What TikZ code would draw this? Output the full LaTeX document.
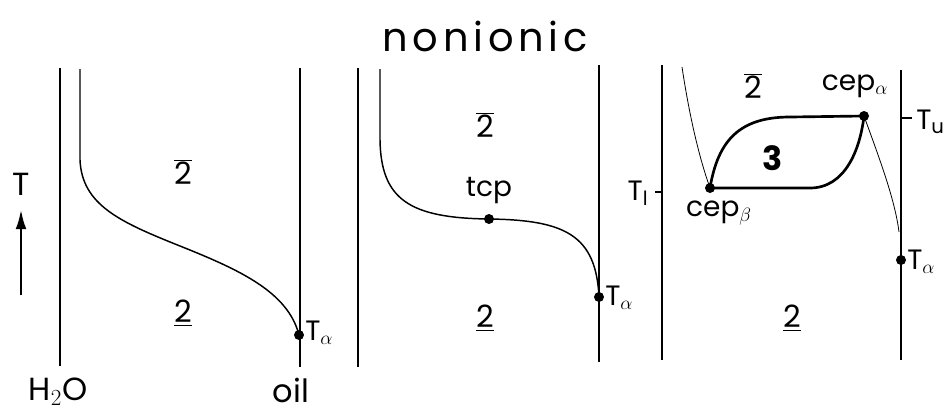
\documentclass[tikz,border=0pt]{standalone}
\usepackage{fontspec}
\usetikzlibrary{arrows.meta}
\setmainfont{Poppins}
\begin{document}
\begin{tikzpicture}[x=0.75pt,y=-0.75pt,
  axis/.style={line width=1.8pt},
  curve/.style={line width=1.1pt},
  thincurve/.style={line width=0.6pt},
  loopline/.style={line width=2pt},
  dot/.style={circle,fill=black,inner sep=0pt,minimum size=7.5pt},
  lbl/.style={inner sep=0pt,font=\fontsize{21}{24}\selectfont},
  region/.style={inner sep=0pt,font=\fontsize{23}{26}\selectfont}]
\useasboundingbox (0,0) rectangle (946,412);
% title
\node[inner sep=0pt,font=\fontsize{30}{36}\addfontfeatures{LetterSpace=12}\selectfont] (title) at (485,36) {nonionic};
% ---------- panel 1 ----------
\draw[axis] (60,68) -- (60,366);
\draw[axis] (300,68) -- (300,367);
\node[dot] (ta1) at (299,335) {};
\draw[curve] (80,69) -- (80,160) .. controls (82,205) and (120,222) .. (180,246)
  .. controls (240,270) and (288,292) .. (ta1.center);
\node[lbl,anchor=west] (ta1l) at (305,333) {T$_\alpha$};
\node[region] (r1a) at (183,172) {$\overline{\mbox{2}}$};
\node[region] (r1b) at (183,313) {$\underline{\mbox{2}}$};
\node[lbl,font=\fontsize{24}{28}\selectfont] (Tl) at (21,184) {T};
\coordinate (arS) at (21,295);
\coordinate (arE) at (21,209);
\draw[line width=2.2pt,-{Latex[length=15pt,width=8pt]}] (arS) -- (arE);
\node[lbl,font=\fontsize{24}{28}\selectfont] (h2o) at (58,392) {H$_2$O};
\node[lbl,font=\fontsize{24}{28}\selectfont] (oil) at (291,390) {oil};
% ---------- panel 2 ----------
\draw[axis] (358,68) -- (358,367);
\draw[axis] (599,65) -- (599,362);
\node[dot] (tcp) at (489,219) {};
\node[dot] (ta2) at (599,297) {};
\draw[curve] (380,69) -- (380,140) .. controls (381,200) and (410,218) .. (tcp.center)
  .. controls (565,220) and (596,235) .. (ta2.center);
\node[lbl] (tcpl) at (489,191) {tcp};
\node[lbl,anchor=west] (ta2l) at (605,298) {T$_\alpha$};
\node[region] (r2a) at (485,125) {$\overline{\mbox{2}}$};
\node[region] (r2b) at (485,318) {$\underline{\mbox{2}}$};
% ---------- panel 3 ----------
\draw[axis] (662,65) -- (662,360);
\draw[axis] (901,70) -- (901,360);
\coordinate (tlt) at (655,192);
\coordinate (tla) at (662,192);
\draw[line width=1.2pt] (tlt) -- (tla);
\coordinate (tut) at (912,118);
\coordinate (tua) at (901,118);
\draw[line width=1.2pt] (tua) -- (tut);
\node[lbl] (tll) at (638,193) {T\textsubscript{l}};
\node[lbl,anchor=west] (tul) at (916,122) {T\textsubscript{u}};
\node[dot] (cepb) at (710,188) {};
\node[dot] (cepa) at (864,116) {};
\node[dot] (ta3) at (901,260) {};
\coordinate (c3s) at (682,67);
\coordinate (c3m) at (899,232);
\draw[thincurve] (c3s) .. controls (690,120) and (700,160) .. (cepb.center);
\draw[thincurve] (cepa.center) .. controls (880,160) and (895,200) .. (c3m);
\draw[loopline] (cepb.center) .. controls (718,140) and (740,117) .. (790,117) -- (cepa.center);
\draw[loopline] (cepb.center) -- (810,188) .. controls (845,188) and (860,150) .. (cepa.center);
\node[lbl] (cepbl) at (719,213) {cep$_\beta$};
\node[lbl] (cepal) at (855,86) {cep$_\alpha$};
\node[lbl,anchor=west] (ta3l) at (907,262) {T$_\alpha$};
\node[region] (r3a) at (753,86) {$\overline{\mbox{2}}$};
\node[region,font=\fontsize{25}{28}\selectfont\bfseries] (r3c) at (773,158) {3};
\node[region] (r3b) at (792,318) {$\underline{\mbox{2}}$};
\end{tikzpicture}
\end{document}
